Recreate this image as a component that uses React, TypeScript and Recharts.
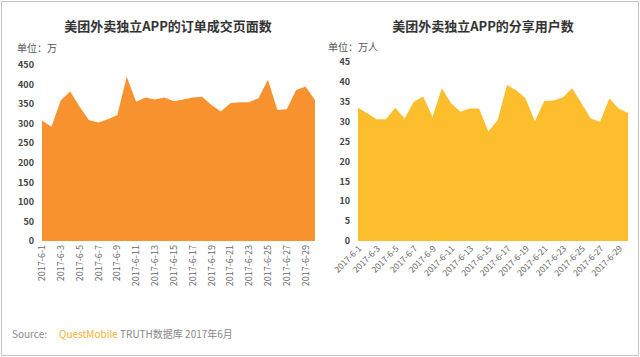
import React from "react";
import { AreaChart, Area, XAxis, YAxis } from "recharts";

const dates = Array.from({ length: 30 }, (_, i) => `2017-6-${i + 1}`);
const orderPages = [308, 292, 360, 382, 343, 309, 303, 311, 322, 420, 356, 367, 362, 367, 357, 362, 367, 369, 348, 331, 352, 355, 355, 365, 412, 335, 337, 386, 395, 360];
const shareUsers = [33.5, 32.1, 30.6, 30.6, 33.5, 30.8, 35.0, 36.3, 31.2, 38.4, 34.6, 32.5, 33.3, 33.3, 27.5, 30.4, 39.2, 37.9, 35.8, 30.1, 35.2, 35.3, 36.1, 38.4, 34.6, 30.8, 30.0, 35.8, 33.3, 32.2];
const leftTicks = [0, 50, 100, 150, 200, 250, 300, 350, 400, 450];
const rightTicks = [0, 5, 10, 15, 20, 25, 30, 35, 40, 45];

const leftData = dates.map((d, i) => ({ date: d, v: orderPages[i] }));
const rightData = dates.map((d, i) => ({ date: d, v: shareUsers[i] }));

const CJK = '"Noto Sans CJK SC", "Noto Sans", sans-serif';

const LeftTick = (props: any) => {
  const { x, y, payload } = props;
  const yy = y - 4;
  return (
    <text x={x} y={yy} dy="0.35em" transform={`rotate(-90 ${x} ${yy})`} textAnchor="end" fontSize={9} fill="#666" fontFamily={CJK}>
      {payload.value}
    </text>
  );
};

const RightTick = (props: any) => {
  const { x, y, payload } = props;
  const yy = y - 2;
  return (
    <text x={x + 2} y={yy} dy="0.35em" transform={`rotate(-45 ${x + 2} ${yy})`} textAnchor="end" fontSize={8.5} fill="#666" fontFamily={CJK}>
      {payload.value}
    </text>
  );
};

const yTickStyle = { fontSize: 9, fill: "#444", fontWeight: 700, fontFamily: CJK };

export default function App() {
  return (
    <div style={{ position: "absolute", left: 0, top: 0, width: 640, height: 357, background: "#fff", fontFamily: CJK, overflow: "hidden" }}>
      <div style={{ position: "absolute", left: 1, top: 1, width: 636, height: 353, border: "1px solid #c4c4c4" }} />
      <div style={{ position: "absolute", left: 0, width: 336, top: 16, textAlign: "center", fontSize: 13, fontWeight: 700, color: "#333" }}>
        美团外卖独立APP的订单成交页面数
      </div>
      <div style={{ position: "absolute", left: 320, width: 326, top: 16, textAlign: "center", fontSize: 13, fontWeight: 700, color: "#333" }}>
        美团外卖独立APP的分享用户数
      </div>
      <div style={{ position: "absolute", left: 17, top: 40, fontSize: 10, color: "#555" }}>单位：万</div>
      <div style={{ position: "absolute", left: 328, top: 39, fontSize: 10, color: "#555" }}>单位：万人</div>

      <div style={{ position: "absolute", left: 0, top: 0 }}>
        <AreaChart width={320} height={300} data={leftData} margin={{ top: 65, right: 5, left: 10, bottom: 0 }}>
          <XAxis dataKey="date" interval={1} tick={<LeftTick />} tickLine={false} axisLine={false} height={59} />
          <YAxis domain={[0, 450]} ticks={leftTicks} width={32} tickLine={false} axisLine={false} tick={yTickStyle} interval={0} />
          <Area type="linear" dataKey="v" stroke="none" fill="#F7922E" fillOpacity={1} isAnimationActive={false} />
        </AreaChart>
      </div>

      <div style={{ position: "absolute", left: 320, top: 0 }}>
        <AreaChart width={320} height={300} data={rightData} margin={{ top: 62, right: 12, left: 10, bottom: 0 }}>
          <XAxis dataKey="date" interval={1} tick={<RightTick />} tickLine={false} axisLine={false} height={59} />
          <YAxis domain={[0, 45]} ticks={rightTicks} width={28} tickLine={false} axisLine={false} tick={yTickStyle} interval={0} />
          <Area type="linear" dataKey="v" stroke="none" fill="#FDBE2E" fillOpacity={1} isAnimationActive={false} />
        </AreaChart>
      </div>

      <div style={{ position: "absolute", left: 12, top: 326, fontSize: 10, color: "#888", whiteSpace: "nowrap" }}>
        Source:<span style={{ display: "inline-block", width: 12 }} />
        <span style={{ color: "#F5B032" }}>QuestMobile</span> TRUTH数据库 2017年6月
      </div>
    </div>
  );
}
